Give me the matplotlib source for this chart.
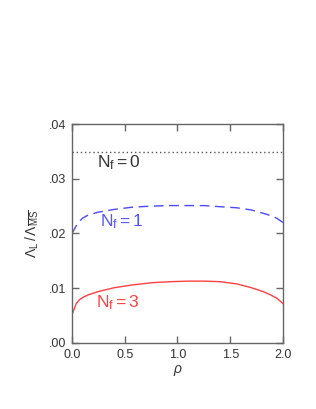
import matplotlib
matplotlib.use("Agg")
import matplotlib.pyplot as plt
from matplotlib import font_manager
from matplotlib.ticker import FuncFormatter

names = {f.name for f in font_manager.fontManager.ttflist}
narrow = 'Liberation Sans Narrow' if 'Liberation Sans Narrow' in names else 'Liberation Sans'

plt.rcParams['font.family'] = ['Liberation Sans', 'DejaVu Sans']
plt.rcParams['mathtext.fontset'] = 'custom'
plt.rcParams['mathtext.rm'] = narrow
plt.rcParams['mathtext.it'] = narrow + ':italic'

# values
rho = [0.0, 0.02, 0.04, 0.07, 0.10, 0.155, 0.25, 0.40, 0.57, 0.75, 0.93,
       1.10, 1.25, 1.40, 1.56, 1.70, 1.81, 1.88, 1.94, 2.0]
nf0 = [0.0348] * len(rho)
nf1 = [0.0200, 0.0207, 0.0214, 0.0222, 0.0228, 0.0234, 0.0239, 0.0244, 0.0248, 0.0250, 0.0251,
       0.0251, 0.0251, 0.0249, 0.0247, 0.0243, 0.0237, 0.0233, 0.0228, 0.0220]
nf3 = [0.0051, 0.0062, 0.0072, 0.0079, 0.0083, 0.0088, 0.0094, 0.0101, 0.0106, 0.0110, 0.0112,
       0.0113, 0.0113, 0.0112, 0.0108, 0.0101, 0.0094, 0.0088, 0.0082, 0.0072]

labels = ['$\\mathregular{N_f=0}$', '$\\mathregular{N_f=1}$', '$\\mathregular{N_f=3}$']
label_x = [0.24, 0.265, 0.23]
label_y = [0.0330, 0.0222, 0.0073]

fig = plt.figure(figsize=(3.16, 4.09), dpi=100)
ax = fig.add_axes([0.2278, 0.1614, 0.6677, 0.5354])

ax.plot(rho, nf0, color='#555555', lw=1.0, linestyle=(0, (1, 2)))
ax.plot(rho, nf1, color='#4a4aff', lw=1.0, linestyle=(0, (7, 4)))
ax.plot(rho, nf3, color='#ff4040', lw=1.0)

colors = ['#333333', '#5555ff', '#ff4040']
for t, x, y, c in zip(labels, label_x, label_y, colors):
    ax.text(x, y, t, color=c, fontsize=12.5, ha='left', va='center')

ax.set_xlim(0, 2.0)
ax.set_ylim(0, 0.04)
ax.set_xticks([0.0, 0.5, 1.0, 1.5, 2.0])
ax.set_yticks([0.0, 0.01, 0.02, 0.03, 0.04])
ax.yaxis.set_major_formatter(FuncFormatter(lambda v, p: ('%.2f' % v)[1:]))
ax.xaxis.set_major_formatter(FuncFormatter(lambda v, p: '%.1f' % v))
ax.tick_params(direction='in', length=5, width=1, color='#666666', labelsize=9,
               labelcolor='#333333', top=True, right=True, pad=4)
for s in ax.spines.values():
    s.set_color('#666666')
    s.set_linewidth(1.0)

ax.set_xlabel('$\\rho$', fontsize=10, color='#333333', labelpad=2)
ax.set_ylabel('$\\mathregular{\\Lambda_L\\,/\\,\\Lambda_{\\overline{MS}}}$', fontsize=10,
              color='#333333', labelpad=6)

fig.savefig('out.png', dpi=100)
